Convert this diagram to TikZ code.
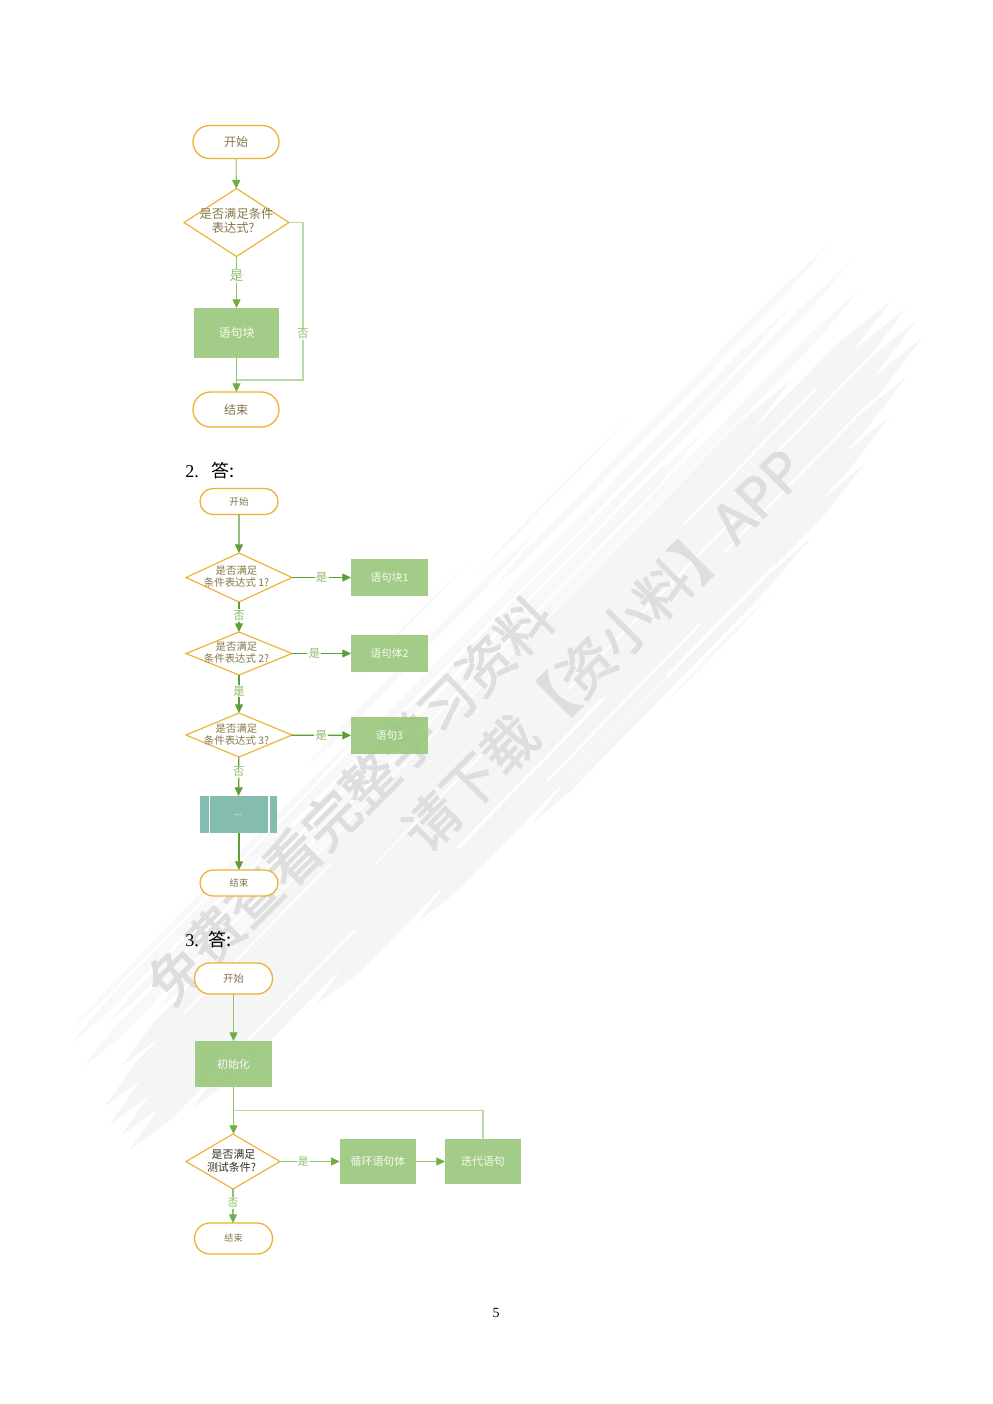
\documentclass[tikz,border=0pt]{standalone}
\usepackage{fontspec}
\setmainfont{Liberation Serif}
\newfontfamily\cjk{Noto Sans CJK SC}
\newfontfamily\cjkb[FakeBold=2.2]{Noto Sans CJK SC}
\usetikzlibrary{shapes.geometric,shapes.misc,arrows.meta}
\definecolor{orangeline}{HTML}{EDB12F}
\definecolor{arrowgreen}{HTML}{70AD47}
\definecolor{linegreen}{HTML}{8FC170}
\definecolor{darkgreen}{HTML}{5F9E35}
\definecolor{loopgreen}{HTML}{B9DAA4}
\definecolor{boxgreen}{HTML}{99C77C}
\definecolor{tealbox}{HTML}{7AB8AA}
\definecolor{labelgreen}{HTML}{8CBF6A}
\definecolor{txtbrown}{HTML}{85764A}
\definecolor{wmband}{HTML}{F5F5F5}
\definecolor{wmlight}{HTML}{F8F8F8}
\definecolor{wmtext}{HTML}{DEDEDE}
\tikzset{
  sz/.style n args={2}{minimum width=#1*.75pt,minimum height=#2*.75pt},
  fsz/.style={font=\cjk\fontsize{#1}{12}\selectfont},
  fsb/.style n args={2}{font=\cjk\fontsize{#1}{#2}\selectfont},
  term/.style={rounded rectangle,draw=orangeline,line width=.95pt,fill=white,inner sep=0pt,text=txtbrown,outer sep=0pt},
  dia/.style={diamond,draw=orangeline,line width=.85pt,fill=white,inner sep=0pt,outer sep=0pt},
  boxn/.style={rectangle,fill=boxgreen,fill opacity=.9,text opacity=1,text=white!90!boxgreen,inner sep=0pt,outer sep=0pt},
  subp/.style={rectangle,fill=tealbox,fill opacity=.92,text opacity=1,text=white!85!tealbox,inner sep=0pt,outer sep=0pt},
  diatxt/.style={text=txtbrown,align=center,inner sep=0pt},
  arr/.style={draw=linegreen,line width=.8pt,-{Triangle[length=6.5pt,width=6pt,color=arrowgreen]}},
  arrd/.style={draw=darkgreen,line width=.9pt,-{Triangle[length=6.5pt,width=6pt]}},
  arrl/.style={draw=loopgreen,line width=.8pt},
  lab/.style={text=labelgreen,fill=white,inner sep=1pt,fill opacity=.85,text opacity=1},
  slit/.style={draw=white,line cap=round},
  wmt/.style={text=wmtext,rotate=45,inner sep=0pt},
}
\begin{document}
\begin{tikzpicture}[x=.75pt,y=-.75pt]
\useasboundingbox (0,0) rectangle (993,1404);
\fill[white] (0,0) rectangle (993,1404);
% --- watermark brush: tapered streaks laid along the band axis
\begin{scope}[shift={(100,1100)},rotate=45.7]
\foreach \o/\s/\e/\w/\c in {
  -112/480/640/3/wmlight, -98/640/860/3/wmlight,
  -85/380/720/6/wmlight, -76/640/1121/7/wmlight, -70/30/450/5/wmlight,
  -60/20/1050/9/wmlight, -48/60/1125/8/wmlight, -35/10/900/11/wmlight,
  -22/100/1110/10/wmlight, -8/40/1000/15/wmband, 8/0/1125/17/wmband,
  24/-10/1130/17/wmband, 40/-10/1128/17/wmband, 56/-15/1120/17/wmband,
  72/60/1080/17/wmband, 88/220/1040/17/wmband, 103/350/990/14/wmband,
  116/500/900/10/wmband, 127/680/830/4/wmlight}
{
  \fill[\c] (\s,\o) -- (\s+50,\o-\w/2) -- (\e-70,\o-\w/2) -- (\e,\o) -- (\e-70,\o+\w/2) -- (\s+50,\o+\w/2) -- cycle;
}
\foreach \o/\s/\e/\w in {
  0/120/330/1.2, 32/360/560/1.2, 48/620/860/1.6, 16/820/1010/1.6,
  64/120/300/1.6, 80/430/640/2.2, 97/540/760/1.6, 110/700/850/2.6,
  32/930/1090/1.2, 64/830/1040/1.6}
{
  \draw[slit,line width=\w] (\s,\o) -- (\e,\o);
}
\end{scope}
% --- watermark text
\node[wmt,font=\cjkb\fontsize{41pt}{44pt}\selectfont] (wm1) at (350,800) {免费查看完整学习资料};
\node[wmt,font=\cjkb\fontsize{41pt}{44pt}\selectfont] (wm2) at (603,650) {请下载【资小料】APP};
% --- headings
\node[anchor=west,inner sep=0pt,font=\fontsize{13.5pt}{15pt}\selectfont] (h2n) at (185,471.5) {2.};
\node[anchor=west,inner sep=0pt,font=\cjk\fontsize{13.5pt}{15pt}\selectfont] (h2a) at (211,471) {答:};
\node[anchor=west,inner sep=0pt,font=\fontsize{13.5pt}{15pt}\selectfont] (h3n) at (185,940.5) {3.};
\node[anchor=west,inner sep=0pt,font=\cjk\fontsize{13.5pt}{15pt}\selectfont] (h3a) at (208,940) {答:};
\node[inner sep=0pt,font=\fontsize{10.5pt}{12pt}\selectfont] (pg) at (496,1313) {5};
% --- diagram 1
\node[term,sz={86}{33},fsz=9] (a1) at (236,142) {开始};
\node[dia,sz={105}{68},shape aspect=1.54] (a2) at (236.5,222.5) {};
\node[diatxt,fsb={9.2}{10.5}] (a2t) at (236.5,221) {是否满足条件\\\hspace*{-5pt}表达式?};
\node[boxn,sz={85}{50},fsz=9] (a3) at (236.5,333) {语句块};
\node[term,sz={86}{35},fsz=9] (a4) at (236,409.5) {结束};
\coordinate (a5) at (303,222.5);
\coordinate (a6) at (303,380);
\coordinate (a7) at (236.5,380);
\draw[arrl] (a2.east) -- (a5) -- (a6) -- (a7);
\draw[arr] (a1) -- (a2);
\draw[arr] (a2) -- node[lab,fsz=10,pos=.38] (a8) {是} (a3);
\draw[arr] (a3.south) -- (a3.south |- a4.north);
\node[lab,fsz=8.5] (a9) at (303,334) {否};
% --- diagram 2
\node[term,sz={78}{26},fsz=7.2] (b1) at (239,501.5) {开始};
\node[dia,sz={106}{49},shape aspect=2.16] (b2) at (239,577.5) {};
\node[diatxt,fsb={7.8}{9}] (b2t) at (236.5,577) {是否满足\\条件表达式 1?};
\node[dia,sz={106}{43},shape aspect=2.46] (b3) at (239,653.5) {};
\node[diatxt,fsb={7.8}{9}] (b3t) at (236.5,653) {是否满足\\条件表达式 2?};
\node[dia,sz={106}{44},shape aspect=2.41] (b4) at (239,735) {};
\node[diatxt,fsb={7.8}{9}] (b4t) at (236.5,735) {是否满足\\条件表达式 3?};
\node[boxn,sz={77}{37},fsz=8] (b5) at (389.5,577.5) {语句块1};
\node[boxn,sz={77}{37},fsz=8] (b6) at (389.5,653.5) {语句体2};
\node[boxn,sz={77}{37},fsz=8] (b7) at (389.5,735.5) {语句3};
\node[subp,sz={77}{37},fsz=7] (b8) at (238.5,814.5) {...};
\coordinate (b8l1) at (209.5,796); \coordinate (b8l2) at (209.5,833);
\coordinate (b8r1) at (269,796); \coordinate (b8r2) at (269,833);
\draw[white,line width=.8pt] (b8l1) -- (b8l2);
\draw[white,line width=.8pt] (b8r1) -- (b8r2);
\node[term,sz={78}{26},fsz=7] (b9) at (239,883) {结束};
\draw[arrd] (b1) -- (b2);
\draw[arrd] (b2) -- node[lab,fsz=8.5,pos=.45] (b10) {否} (b3);
\draw[arrd] (b3) -- node[lab,fsz=8.5,pos=.42] (b11) {是} (b4);
\draw[arrd] (b4) -- node[lab,fsz=8.5,pos=.38] (b12) {否} (b8);
\draw[arrd] (b8.south -| b9) -- (b9.north);
\draw[arrd] (b2) -- node[lab,fsz=8.5,pos=.5] (b13) {是} (b5);
\draw[arrd] (b3) -- node[lab,fsz=8.5,pos=.38] (b14) {是} (b6);
\draw[arrd] (b4) -- node[lab,fsz=8.5,pos=.5] (b15) {是} (b7);
% --- diagram 3
\node[term,sz={78}{31},fsz=7.8] (c1) at (233.5,978.5) {开始};
\node[boxn,sz={76.5}{46},fsz=8.2] (c2) at (233.5,1064) {初始化};
\node[dia,sz={94}{55},shape aspect=1.71] (c3) at (233,1161.5) {};
\node[diatxt,fsb={8.2}{9.8},text=black!60!txtbrown] (c3t) at (231.5,1160.5) {\hspace*{3pt}是否满足\\测试条件?};
\node[boxn,sz={76.5}{45},fsz=8.2] (c4) at (378,1161.5) {循环语句体};
\node[boxn,sz={76}{45},fsz=8.2] (c5) at (483,1161.5) {迭代语句};
\node[term,sz={78}{31},fsz=6.8] (c6) at (233.5,1238.5) {结束};
\coordinate (c7) at (483,1110.5);
\coordinate (c8) at (233.5,1110.5);
\draw[arrl] (c5.north) -- (c7) -- (c8);
\draw[arr] (c1.south) -- (c2.north);
\draw[arr] (c2.south) -- (c2.south |- c3.north);
\draw[arr] (c3) -- node[lab,fsz=8,pos=.39] (c9) {是} (c4);
\draw[arr] (c4) -- (c5);
\draw[arr] (c3.south) -- node[lab,fsz=8,pos=.4] (c10) {否} (c3.south |- c6.north);
\end{tikzpicture}
\end{document}
